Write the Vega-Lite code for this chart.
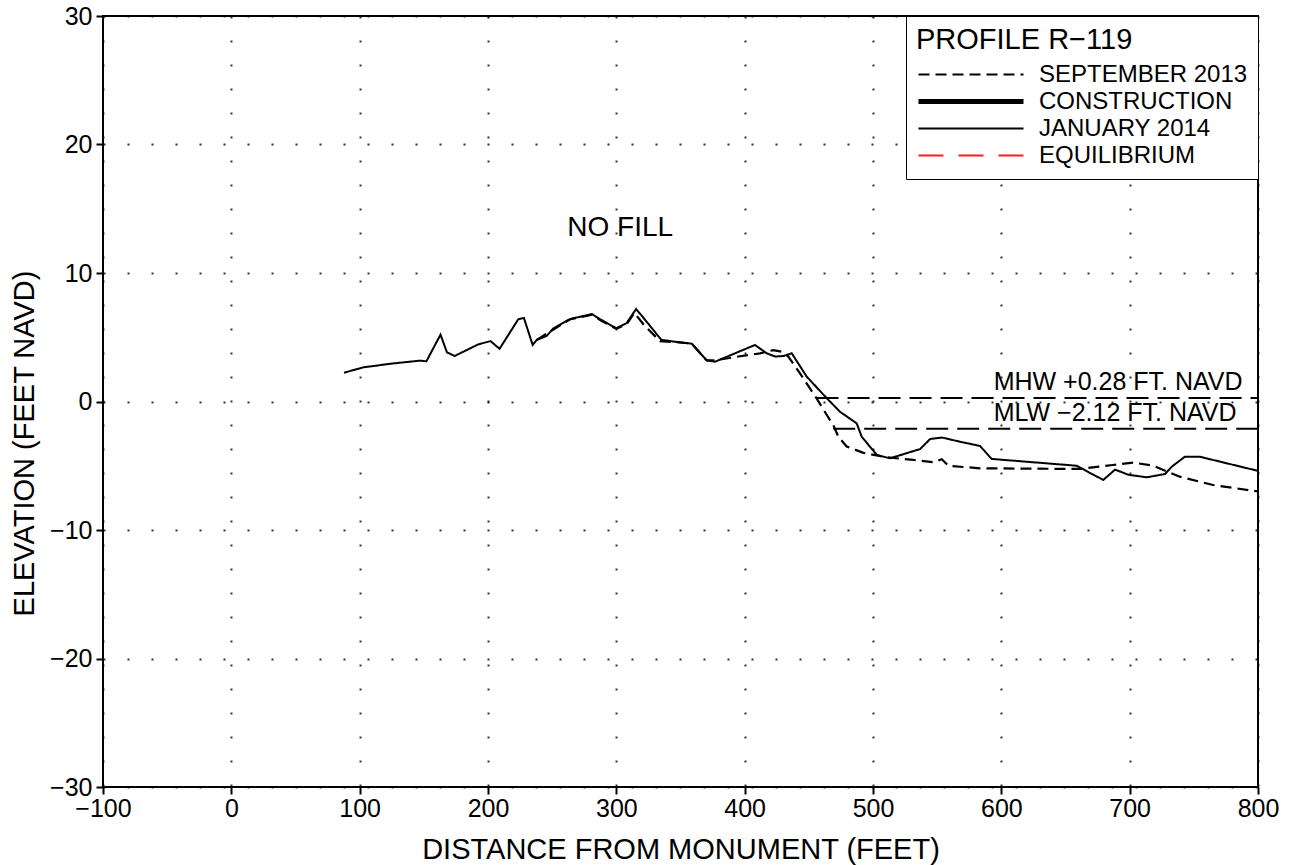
{
  "$schema": "https://vega.github.io/schema/vega-lite/v6.json",
  "width": 1155,
  "height": 771,
  "autosize": {"type": "none"},
  "padding": {"left": 103, "top": 16, "right": 31, "bottom": 78},
  "background": "white",
  "config": {
    "font": "Liberation Sans",
    "view": {"stroke": "black", "strokeWidth": 2},
    "axis": {
      "grid": true,
      "gridColor": "black",
      "gridDash": [2, 22],
      "gridWidth": 2,
      "gridOpacity": 0.8,
      "domain": false,
      "tickColor": "black",
      "tickWidth": 2,
      "tickSize": 7,
      "labelColor": "black",
      "labelFontSize": 25,
      "labelFlush": false,
      "labelOverlap": false,
      "titleColor": "black",
      "titleFontSize": 29,
      "titleFontWeight": "normal"
    },
    "legend": {
      "labelLimit": 400,
      "titleLimit": 400
    }
  },
  "datasets": {
    "profiles": [
      {"series": "JANUARY 2014", "dist": 87.8, "elev": 2.24},
      {"series": "JANUARY 2014", "dist": 103, "elev": 2.66},
      {"series": "JANUARY 2014", "dist": 125, "elev": 2.95},
      {"series": "JANUARY 2014", "dist": 147, "elev": 3.18},
      {"series": "JANUARY 2014", "dist": 152, "elev": 3.13},
      {"series": "JANUARY 2014", "dist": 163, "elev": 5.2},
      {"series": "JANUARY 2014", "dist": 168, "elev": 3.83},
      {"series": "JANUARY 2014", "dist": 174, "elev": 3.54},
      {"series": "JANUARY 2014", "dist": 192.5, "elev": 4.45},
      {"series": "JANUARY 2014", "dist": 202, "elev": 4.7},
      {"series": "JANUARY 2014", "dist": 209, "elev": 4.1},
      {"series": "JANUARY 2014", "dist": 223.6, "elev": 6.4},
      {"series": "JANUARY 2014", "dist": 228, "elev": 6.5},
      {"series": "JANUARY 2014", "dist": 234.8, "elev": 4.4},
      {"series": "JANUARY 2014", "dist": 238, "elev": 4.8},
      {"series": "JANUARY 2014", "dist": 245.7, "elev": 5.1},
      {"series": "JANUARY 2014", "dist": 251, "elev": 5.7},
      {"series": "JANUARY 2014", "dist": 264, "elev": 6.42},
      {"series": "JANUARY 2014", "dist": 281, "elev": 6.8},
      {"series": "JANUARY 2014", "dist": 287, "elev": 6.42},
      {"series": "JANUARY 2014", "dist": 300, "elev": 5.7},
      {"series": "JANUARY 2014", "dist": 308, "elev": 6.1},
      {"series": "JANUARY 2014", "dist": 315.4, "elev": 7.2},
      {"series": "JANUARY 2014", "dist": 323.7, "elev": 6.2},
      {"series": "JANUARY 2014", "dist": 335, "elev": 4.8},
      {"series": "JANUARY 2014", "dist": 349.6, "elev": 4.6},
      {"series": "JANUARY 2014", "dist": 358.8, "elev": 4.5},
      {"series": "JANUARY 2014", "dist": 370.4, "elev": 3.2},
      {"series": "JANUARY 2014", "dist": 377, "elev": 3.1},
      {"series": "JANUARY 2014", "dist": 408, "elev": 4.4},
      {"series": "JANUARY 2014", "dist": 417.2, "elev": 3.75},
      {"series": "JANUARY 2014", "dist": 423.7, "elev": 3.5},
      {"series": "JANUARY 2014", "dist": 430.2, "elev": 3.54},
      {"series": "JANUARY 2014", "dist": 436.7, "elev": 3.75},
      {"series": "JANUARY 2014", "dist": 448.4, "elev": 1.93},
      {"series": "JANUARY 2014", "dist": 464, "elev": 0.25},
      {"series": "JANUARY 2014", "dist": 474.3, "elev": -0.8},
      {"series": "JANUARY 2014", "dist": 487.3, "elev": -1.7},
      {"series": "JANUARY 2014", "dist": 491.2, "elev": -2.74},
      {"series": "JANUARY 2014", "dist": 503, "elev": -4.16},
      {"series": "JANUARY 2014", "dist": 513.3, "elev": -4.42},
      {"series": "JANUARY 2014", "dist": 536.7, "elev": -3.7},
      {"series": "JANUARY 2014", "dist": 544.5, "elev": -2.92},
      {"series": "JANUARY 2014", "dist": 553.6, "elev": -2.8},
      {"series": "JANUARY 2014", "dist": 567.8, "elev": -3.13},
      {"series": "JANUARY 2014", "dist": 583.4, "elev": -3.46},
      {"series": "JANUARY 2014", "dist": 592.5, "elev": -4.47},
      {"series": "JANUARY 2014", "dist": 658.8, "elev": -5.0},
      {"series": "JANUARY 2014", "dist": 671.7, "elev": -5.7},
      {"series": "JANUARY 2014", "dist": 679.5, "elev": -6.1},
      {"series": "JANUARY 2014", "dist": 688.6, "elev": -5.3},
      {"series": "JANUARY 2014", "dist": 699, "elev": -5.7},
      {"series": "JANUARY 2014", "dist": 713.3, "elev": -5.9},
      {"series": "JANUARY 2014", "dist": 727.6, "elev": -5.64},
      {"series": "JANUARY 2014", "dist": 732.8, "elev": -5.07},
      {"series": "JANUARY 2014", "dist": 743, "elev": -4.3},
      {"series": "JANUARY 2014", "dist": 754.8, "elev": -4.3},
      {"series": "JANUARY 2014", "dist": 770.4, "elev": -4.68},
      {"series": "JANUARY 2014", "dist": 800, "elev": -5.4},
      {"series": "SEPTEMBER 2013", "dist": 238, "elev": 4.8},
      {"series": "SEPTEMBER 2013", "dist": 251, "elev": 5.6},
      {"series": "SEPTEMBER 2013", "dist": 264, "elev": 6.4},
      {"series": "SEPTEMBER 2013", "dist": 281, "elev": 6.75},
      {"series": "SEPTEMBER 2013", "dist": 288, "elev": 6.3},
      {"series": "SEPTEMBER 2013", "dist": 300, "elev": 5.65},
      {"series": "SEPTEMBER 2013", "dist": 308, "elev": 6.0},
      {"series": "SEPTEMBER 2013", "dist": 314, "elev": 6.9},
      {"series": "SEPTEMBER 2013", "dist": 322, "elev": 5.9},
      {"series": "SEPTEMBER 2013", "dist": 334, "elev": 4.7},
      {"series": "SEPTEMBER 2013", "dist": 349.6, "elev": 4.6},
      {"series": "SEPTEMBER 2013", "dist": 358.8, "elev": 4.5},
      {"series": "SEPTEMBER 2013", "dist": 370.4, "elev": 3.2},
      {"series": "SEPTEMBER 2013", "dist": 377, "elev": 3.2},
      {"series": "SEPTEMBER 2013", "dist": 395, "elev": 3.5},
      {"series": "SEPTEMBER 2013", "dist": 412, "elev": 3.75},
      {"series": "SEPTEMBER 2013", "dist": 422.3, "elev": 4.0},
      {"series": "SEPTEMBER 2013", "dist": 428.9, "elev": 3.88},
      {"series": "SEPTEMBER 2013", "dist": 434, "elev": 3.5},
      {"series": "SEPTEMBER 2013", "dist": 443, "elev": 2.2},
      {"series": "SEPTEMBER 2013", "dist": 456, "elev": 0.25},
      {"series": "SEPTEMBER 2013", "dist": 464, "elev": -1.05},
      {"series": "SEPTEMBER 2013", "dist": 469, "elev": -1.83},
      {"series": "SEPTEMBER 2013", "dist": 473, "elev": -2.74},
      {"series": "SEPTEMBER 2013", "dist": 479.5, "elev": -3.5},
      {"series": "SEPTEMBER 2013", "dist": 492.5, "elev": -4.0},
      {"series": "SEPTEMBER 2013", "dist": 510.7, "elev": -4.34},
      {"series": "SEPTEMBER 2013", "dist": 531.5, "elev": -4.55},
      {"series": "SEPTEMBER 2013", "dist": 547, "elev": -4.73},
      {"series": "SEPTEMBER 2013", "dist": 553.6, "elev": -4.5},
      {"series": "SEPTEMBER 2013", "dist": 558.8, "elev": -5.0},
      {"series": "SEPTEMBER 2013", "dist": 583.4, "elev": -5.2},
      {"series": "SEPTEMBER 2013", "dist": 661, "elev": -5.25},
      {"series": "SEPTEMBER 2013", "dist": 687, "elev": -4.94},
      {"series": "SEPTEMBER 2013", "dist": 702.9, "elev": -4.76},
      {"series": "SEPTEMBER 2013", "dist": 718.5, "elev": -5.0},
      {"series": "SEPTEMBER 2013", "dist": 739, "elev": -5.85},
      {"series": "SEPTEMBER 2013", "dist": 765, "elev": -6.5},
      {"series": "SEPTEMBER 2013", "dist": 800, "elev": -7.0}
    ],
    "tides": [
      {"name": "MHW", "elev": 0.28, "start": 456, "end": 800, "label": "MHW +0.28 FT. NAVD"},
      {"name": "MLW", "elev": -2.12, "start": 469, "end": 800, "label": "MLW −2.12 FT. NAVD"}
    ],
    "notes": [
      {"dist": 303, "elev": 13.5, "label": "NO FILL"}
    ]
  },
  "layer": [
    {
      "mark": {"type": "rule", "color": "black", "strokeWidth": 1.5},
      "encoding": {"y": {"datum": 0, "type": "quantitative"}}
    },
    {
      "data": {"name": "tides"},
      "mark": {"type": "rule", "color": "black", "strokeWidth": 2, "strokeDash": [22, 9]},
      "encoding": {
        "x": {"field": "start", "type": "quantitative"},
        "x2": {"field": "end"},
        "y": {"field": "elev", "type": "quantitative"}
      }
    },
    {
      "data": {"name": "tides"},
      "mark": {"type": "text", "align": "left", "baseline": "alphabetic", "dy": -8, "fontSize": 25, "color": "black"},
      "encoding": {
        "x": {"datum": 594, "type": "quantitative"},
        "y": {"field": "elev", "type": "quantitative"},
        "text": {"field": "label"}
      }
    },
    {
      "data": {"name": "notes"},
      "mark": {"type": "text", "align": "center", "baseline": "middle", "fontSize": 28, "color": "black"},
      "encoding": {
        "x": {"field": "dist", "type": "quantitative"},
        "y": {"field": "elev", "type": "quantitative"},
        "text": {"field": "label"}
      }
    },
    {
      "data": {"name": "profiles"},
      "mark": {"type": "line", "interpolate": "linear"},
      "encoding": {
        "x": {
          "field": "dist", "type": "quantitative",
          "scale": {"domain": [-100, 800], "nice": false, "zero": false},
          "axis": {"values": [-100, 0, 100, 200, 300, 400, 500, 600, 700, 800], "title": "DISTANCE FROM MONUMENT (FEET)", "titlePadding": 14, "labelPadding": 2}
        },
        "y": {
          "field": "elev", "type": "quantitative",
          "scale": {"domain": [-30, 30], "nice": false, "zero": false},
          "axis": {"values": [-30, -20, -10, 0, 10, 20, 30], "title": "ELEVATION (FEET NAVD)", "titlePadding": 10, "labelPadding": 4, "titleY": 427}
        },
        "color": {
          "field": "series", "type": "nominal",
          "scale": {"domain": ["SEPTEMBER 2013", "CONSTRUCTION", "JANUARY 2014", "EQUILIBRIUM"], "range": ["black", "black", "black", "#ff1a1a"]},
          "legend": {
            "title": "PROFILE R−119",
            "orient": "top-right",
            "offset": 0,
            "fillColor": "white",
            "strokeColor": "black",
            "padding": 10,
            "symbolType": "stroke",
            "symbolSize": 11025,
            "clipHeight": 27,
            "rowPadding": 0,
            "labelOffset": 13,
            "labelFontSize": 24,
            "labelColor": "black",
            "titleFontSize": 29,
            "titleFontWeight": "normal",
            "titleColor": "black",
            "titlePadding": 6
          }
        },
        "strokeDash": {
          "field": "series", "type": "nominal",
          "scale": {"domain": ["SEPTEMBER 2013", "CONSTRUCTION", "JANUARY 2014", "EQUILIBRIUM"], "range": [[11, 6], [1, 0], [1, 0], [25, 15]]},
          "legend": {
            "title": "PROFILE R−119",
            "orient": "top-right",
            "offset": 0,
            "fillColor": "white",
            "strokeColor": "black",
            "padding": 10,
            "symbolType": "stroke",
            "symbolSize": 11025,
            "clipHeight": 27,
            "rowPadding": 0,
            "labelOffset": 13,
            "labelFontSize": 24,
            "labelColor": "black",
            "titleFontSize": 29,
            "titleFontWeight": "normal",
            "titleColor": "black",
            "titlePadding": 6
          }
        },
        "strokeWidth": {
          "field": "series", "type": "nominal",
          "scale": {"type": "ordinal", "domain": ["SEPTEMBER 2013", "CONSTRUCTION", "JANUARY 2014", "EQUILIBRIUM"], "range": [2.2, 5, 2, 2]},
          "legend": {
            "title": "PROFILE R−119",
            "orient": "top-right",
            "offset": 0,
            "fillColor": "white",
            "strokeColor": "black",
            "padding": 10,
            "symbolType": "stroke",
            "symbolSize": 11025,
            "clipHeight": 27,
            "rowPadding": 0,
            "labelOffset": 13,
            "labelFontSize": 24,
            "labelColor": "black",
            "titleFontSize": 29,
            "titleFontWeight": "normal",
            "titleColor": "black",
            "titlePadding": 6
          }
        }
      }
    }
  ]
}
